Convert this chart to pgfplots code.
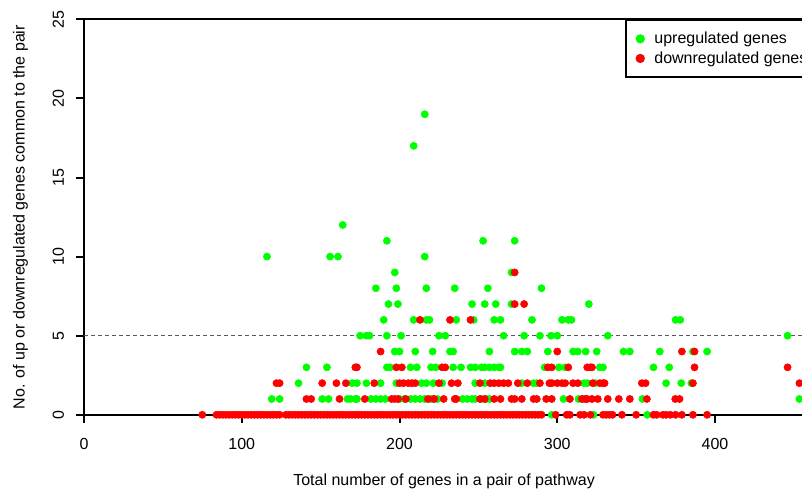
\documentclass[border=0pt]{standalone}
\usepackage{fontspec}
\setmainfont{Liberation Sans}
\usepackage{pgfplots}
\pgfplotsset{compat=1.18}

\pgfplotstableread{
x y
216 19
209 17
164 12
192 11
253 11
273 11
116 10
156 10
161 10
216 10
197 9
271 9
185 8
198 8
217 8
235 8
256 8
290 8
193 7
199 7
246 7
254 7
261 7
271 7
320 7
190 6
209 6
217 6
219 6
236 6
247 6
260 6
264 6
284 6
303 6
307 6
309 6
375 6
378 6
175 5
179 5
181 5
192 5
201 5
225 5
229 5
266 5
279 5
289 5
296 5
300 5
332 5
446 5
197 4
200 4
210 4
221 4
232 4
234 4
257 4
273 4
277.5 4
281 4
294 4
310 4
313 4
318 4
325 4
342 4
346 4
365 4
386 4
395 4
141 3
154 3
192 3
194 3
207 3
211 3
220 3
223 3
234 3
239 3
245 3
248 3
252 3
254 3
257 3
260 3
263 3
264 3
292 3
301 3
305 3
327 3
329 3
361 3
371 3
136 2
170 2
173 2
179 2
188 2
198 2
214 2
217 2
221.5 2
227 2
248 2
254 2
277.5 2
285 2
287 2
317 2
319 2
324 2
369 2
378.6 2
385 2
119 1
124 1
151 1
155 1
167 1
169 1
172 1
173 1
182 1
185 1
188 1
191 1
200 1
203 1
207 1
210 1
213 1
216 1
219.5 1
221 1
224 1
240 1
243 1
246 1
248 1
252 1
255 1
257 1
304 1
313.5 1
316 1
354 1
453.5 1
296.5 0
323 0
357 0
}\upreg

\pgfplotstableread{
x y
273 9
273 7
279 7
213 6
232 6
245 6
188 4
300 4
379 4
387 4
172 3
173 3
198 3
201.5 3
227 3
229 3
294 3
296.5 3
307 3
319 3
321 3
322 3
387 3
446 3
122 2
124 2
151 2
160 2
166 2
184 2
200 2
202.5 2
205.6 2
207.8 2
210 2
225 2
233 2
237 2
251 2
257.5 2
260 2
263 2
266 2
269 2
275 2
281 2
289 2
295 2
296.5 2
300 2
303 2
305 2
310 2
313 2
322.5 2
327 2
329 2
330 2
353.6 2
356 2
386 2
453.5 2
141 1
144 1
162 1
178 1
195 1
197 1
199 1
204 1
218 1
222 1
228 1
235 1
236 1
251 1
254 1
260 1
264 1
271 1
273 1
277.5 1
285 1
287 1
293 1
296.5 1
308 1
315.6 1
317.7 1
319 1
322 1
325.7 1
332 1
339 1
346 1
356.8 1
374.8 1
377.5 1
75 0
84 0
86 0
88 0
90 0
92 0
94 0
96 0
98 0
100 0
102 0
104 0
106 0
108 0
110 0
112 0
114 0
116 0
118 0
120 0
122 0
124 0
128 0
130 0
132 0
134 0
136 0
138 0
140 0
142 0
144 0
146 0
148 0
150 0
152 0
154 0
156 0
158 0
160 0
162 0
164 0
166 0
168 0
170 0
172 0
174 0
176 0
178 0
180 0
182 0
184 0
186 0
188 0
190 0
192 0
194 0
196 0
198 0
200 0
202 0
204 0
206 0
208 0
210 0
212 0
214 0
216 0
218 0
220 0
222 0
224 0
226 0
228 0
230 0
232 0
234 0
236 0
238 0
240 0
242 0
244 0
246 0
248 0
250 0
252 0
254 0
256 0
258 0
260 0
262 0
264 0
266 0
268 0
270 0
272 0
274 0
276 0
278 0
280 0
282 0
284 0
286 0
288 0
290 0
299 0
306 0
308 0
314.5 0
317 0
321 0
329 0
331 0
333 0
335 0
341 0
350 0
361 0
363 0
367 0
369 0
371.6 0
375 0
379 0
386 0
395 0
}\downreg

\definecolor{upgreen}{RGB}{0,255,0}
\definecolor{downred}{RGB}{255,0,0}

\begin{document}
\begin{tikzpicture}
\begin{axis}[
  at={(0,0)}, anchor=south west,
  scale only axis,
  width=540.1pt, height=296.6pt,
  xmin=0, xmax=456.5,
  ymin=0, ymax=25,
  xtick={0,100,200,300,400},
  ytick={0,5,10,15,20,25},
  tick pos=left,
  tick align=outside,
  major tick length=6pt,
  axis line style={line width=1.5pt},
  major tick style={line width=1.5pt, black},
  /pgf/number format/assume math mode=true,
  tick label style={font=\fontsize{12}{14}\selectfont},
  label style={font=\fontsize{12}{14}\selectfont},
  xticklabel style={anchor=north, inner sep=0pt, yshift=-11.5pt},
  % rotated frame: yshift moves the label to the left
  yticklabel style={rotate=90, anchor=base, inner sep=0pt, yshift=9pt},
  xlabel={Total number of genes in a pair of pathway},
  ylabel={No. of up or downregulated genes common to the pair},
  xlabel style={at={(axis description cs:0.5,0)}, anchor=base, yshift=-52.7pt},
  ylabel style={at={(axis description cs:0,0.5)}, anchor=base, yshift=44.6pt},
  legend cell align=left,
  legend image code/.code={\draw[#1, only marks] plot coordinates {(0pt,0pt)};},
  legend style={
    at={(0.7514,1)}, anchor=north west,
    draw=black, line width=1.5pt, fill=white,
    inner xsep=7.9pt, inner ysep=8.8pt,
    row sep=4.5pt,
    font=\fontsize{12}{14}\selectfont,
    nodes={inner sep=0pt},
    /tikz/every odd column/.append style={column sep=7.9pt},
  },
]
\addplot[only marks, mark=*, mark size=2.7pt, color=upgreen,
  mark options={draw=none, fill=upgreen}] table[x=x, y=y] {\upreg};
\addlegendentry{upregulated genes}
\addplot[only marks, mark=*, mark size=2.7pt, color=downred,
  mark options={draw=none, fill=downred}] table[x=x, y=y] {\downreg};
\addlegendentry{downregulated genes}
\addplot[forget plot, black!65, line width=0.75pt, dash pattern=on 3pt off 2.25pt]
  coordinates {(0,5) (456.5,5)};
\end{axis}
\pgfresetboundingbox
\path[use as bounding box] (-63pt,-57.2pt) rectangle (538.5pt,311.1pt);
\end{tikzpicture}
\end{document}
